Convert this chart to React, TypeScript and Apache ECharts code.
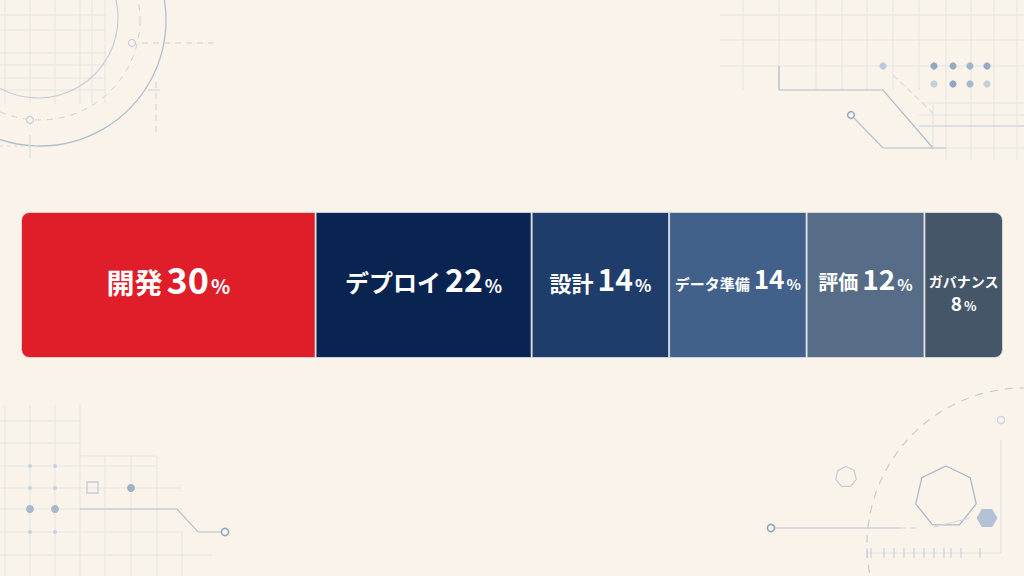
import React, { useEffect, useRef } from "react";
import * as echarts from "echarts";

const categories = ["開発", "デプロイ", "設計", "データ準備", "評価", "ガバナンス"];
const values = [30, 22, 14, 14, 12, 8];
const colors = ["#E01E2A", "#0A2452", "#1F3D6B", "#41608A", "#576C87", "#465669"];
const nameSizes = [28, 24, 22, 15, 20, 14];
const numSizes = [36, 32, 30, 26, 28, 19];
const pctSizes = [20, 18, 17, 15, 16, 13];

const LINE = "#b4c2d2";
const GRID = "#e3e5e5";

function ln(x1: number, y1: number, x2: number, y2: number, stroke = GRID, lw = 1, dash?: number[]) {
  return { type: "line", silent: true, shape: { x1, y1, x2, y2 }, style: { stroke, lineWidth: lw, lineDash: dash } };
}
function circ(cx: number, cy: number, r: number, stroke = LINE, lw = 1.2, fill = "none", dash?: number[]) {
  return { type: "circle", silent: true, shape: { cx, cy, r }, style: { stroke, lineWidth: lw, fill, lineDash: dash } };
}
function dot(cx: number, cy: number, r: number, fill: string) {
  return { type: "circle", silent: true, shape: { cx, cy, r }, style: { fill } };
}
function poly(cx: number, cy: number, r: number, n: number, rot: number, style: any) {
  const pts: number[][] = [];
  for (let k = 0; k < n; k++) {
    const a = rot + (k * 2 * Math.PI) / n;
    pts.push([cx + r * Math.cos(a), cy + r * Math.sin(a)]);
  }
  return { type: "polygon", silent: true, shape: { points: pts }, style };
}
function pl(points: number[][], stroke = LINE, lw = 1.2, dash?: number[]) {
  return { type: "polyline", silent: true, shape: { points }, style: { stroke, lineWidth: lw, fill: "none", lineDash: dash } };
}

function decorations() {
  const g: any[] = [];
  // top-left grid
  [5, 30, 55, 80, 92, 105].forEach((x) => g.push(ln(x, 0, x, 104)));
  [15, 30, 53, 65, 78, 90].forEach((y) => g.push(ln(0, y, 106, y)));
  g.push(circ(38, 18, 80, "#c3cdd8", 1.2));
  g.push(circ(40, 20, 126, "#b0bfcf", 1.3));
  g.push(circ(40, 20, 100, "#c9d2dc", 1, "none", [6, 6]));
  g.push(circ(132, 43, 3.5, "#c3cdd8", 1.2, "#f9f3e9"));
  g.push(circ(30, 120, 3.5, "#c3cdd8", 1.2, "#f9f3e9"));
  g.push(ln(142, 43, 214, 43, "#c9d2dc", 1, [6, 5]));
  g.push(ln(148, 90, 160, 90, "#c9d2dc", 1));
  g.push(ln(156, 82, 156, 135, "#c9d2dc", 1, [6, 5]));
  g.push(ln(30, 135, 30, 158, "#d0d7df", 1));
  g.push(ln(0, 146, 40, 146, "#d7dce2", 1, [3, 4]));

  // top-right grid
  [743, 779, 816, 842, 867, 893, 919, 946, 971, 994, 1017].forEach((x) => g.push(ln(x, 0, x, 90)));
  [15, 40, 66].forEach((y) => g.push(ln(720, y, 1024, y)));
  [946, 971, 994, 1017].forEach((x) => g.push(ln(x, 90, x, 160)));
  [103, 115, 126, 148].forEach((y) => g.push(ln(919, y, 1024, y)));
  g.push(dot(883, 66, 3.6, "#bac8d8"));
  [[934, "#91a6c1"], [953, "#98abc4"], [970, "#a2b4ca"], [987, "#96aac3"]].forEach(([x, c]) =>
    g.push(dot(x as number, 66, 3.6, c as string))
  );
  [[934, "#c3cfdd"], [953, "#91a6c1"], [970, "#a8b9cd"], [987, "#c3cfdd"]].forEach(([x, c]) =>
    g.push(dot(x as number, 84, 3.6, c as string))
  );
  g.push(pl([[779, 66], [779, 90], [883, 90], [933, 148]], "#aebdcd", 1.2));
  g.push(pl([[854, 118], [883, 148], [946, 148]], "#b4c2d2", 1.2));
  g.push(circ(851, 115, 3.4, "#92a7c1", 1.5, "#f9f3e9"));
  g.push(ln(893, 75, 933, 113, "#d3dbe3", 1.2, [6, 4]));
  g.push(ln(919, 126, 1024, 126, "#c9d2dc", 1.2));
  g.push(ln(933, 103, 933, 148, "#dde2e7", 1));

  // bottom-left grid
  [5, 30, 55, 80].forEach((x) => g.push(ln(x, 405, x, 576)));
  [105, 131, 157].forEach((x) => g.push(ln(x, 456, x, 576)));
  g.push(ln(182, 532, 182, 576));
  [421, 443, 466].forEach((y) => g.push(ln(0, y, y === 466 ? 157 : 80, y)));
  g.push(ln(80, 456, 157, 456));
  [488, 509, 532].forEach((y) => g.push(ln(0, y, 182, y)));
  g.push(ln(0, 555, 212, 555));
  [466, 488, 532].forEach((y) => {
    g.push(dot(30, y, 2, "#c7d1dc"));
    g.push(dot(55, y, 2, "#c7d1dc"));
  });
  g.push(dot(30, 509, 4, "#a9b9cc"));
  g.push(dot(55, 509, 4, "#a9b9cc"));
  g.push(dot(131, 488, 4, "#9fb1c7"));
  g.push({ type: "rect", silent: true, shape: { x: 87, y: 482, width: 11, height: 11 }, style: { fill: "none", stroke: "#c3cdd8", lineWidth: 1.3 } });
  g.push(pl([[80, 509], [177, 509], [198, 532], [221, 532]], "#b4c2d2", 1.2));
  g.push(circ(225, 532, 3.6, "#8fa4bf", 1.6, "#f9f3e9"));

  // bottom-right
  g.push(circ(1024, 545, 157, "#c3cdd8", 1.2, "none", [8, 7]));
  g.push(ln(775, 528, 900, 528, "#b4c2d2", 1.2));
  g.push(ln(900, 528, 920, 528, "#c9d2dc", 1.2, [6, 4]));
  g.push(circ(771, 528, 3.6, "#8fa4bf", 1.6, "#f9f3e9"));
  g.push(poly(846, 477, 10.5, 7, -Math.PI / 2, { fill: "none", stroke: "#c3cdd8", lineWidth: 1.2 }));
  g.push(poly(946, 497, 31, 7, -Math.PI / 2, { fill: "none", stroke: "#aab9cb", lineWidth: 1.3 }));
  g.push(ln(934, 527, 970, 518, "#d0d8e1", 1));
  g.push(poly(987, 518, 10.5, 6, 0, { fill: "#b3c2d4" }));
  g.push(circ(1001, 420, 3.6, "#ccd4dd", 1.2, "#f9f3e9"));
  g.push(ln(1001, 440, 1001, 553, "#dde2e7", 1.2));
  g.push(ln(868, 553, 1001, 553, "#e0e4e8", 1.2));
  [867, 871, 884, 894, 904, 914, 924, 934, 944, 951, 961, 980].forEach((x) =>
    g.push(ln(x, 548, x, 558, "#c9d2dc", 1.2))
  );
  return g;
}

export default function App() {
  const ref = useRef<HTMLDivElement>(null);
  useEffect(() => {
    if (!ref.current) return;
    const chart = echarts.init(ref.current, undefined, { renderer: "svg" });
    const last = categories.length - 1;
    const font = "'Noto Sans CJK JP', 'Noto Sans', sans-serif";
    const series = categories.map((name, i) => {
      const isLast = i === last;
      return {
        type: "bar",
        name,
        stack: "total",
        barWidth: 146,
        data: [values[i]],
        itemStyle: {
          color: colors[i],
          borderColor: "rgba(225,230,236,0.75)",
          borderWidth: 1,
          borderRadius: i === 0 ? [8, 0, 0, 8] : isLast ? [0, 8, 8, 0] : 0,
        },
        label: {
          show: true,
          position: "inside",
          overflow: "none",
          offset: isLast ? [0, 3] : [0, -6],
          formatter: (p: any) =>
            isLast
              ? `{n|${p.seriesName}}\n{v|${p.value}}{p|%}`
              : `{n|${p.seriesName}}{v|${p.value}}{p|%}`,
          rich: {
            n: {
              fontFamily: font,
              fontWeight: "bold",
              fontSize: nameSizes[i],
              color: "#ffffff",
              lineHeight: isLast ? 24 : nameSizes[i],
              verticalAlign: "bottom",
            },
            v: {
              fontFamily: font,
              fontWeight: "bold",
              fontSize: numSizes[i],
              color: "#ffffff",
              lineHeight: isLast ? 24 : numSizes[i] * 0.92,
              verticalAlign: "bottom",
              padding: isLast ? 0 : [0, 0, 0, 4],
            },
            p: {
              fontFamily: font,
              fontWeight: "bold",
              fontSize: pctSizes[i],
              color: "#ffffff",
              lineHeight: isLast ? 22 : pctSizes[i],
              verticalAlign: "bottom",
              padding: [0, 0, 0, 2],
            },
          },
        },
      };
    });
    chart.setOption({
      animation: false,
      backgroundColor: "#F9F3E9",
      grid: { left: 21, right: 21, top: 212, height: 146 },
      xAxis: { type: "value", min: 0, max: 100, show: false },
      yAxis: { type: "category", data: ["全体"], show: false },
      graphic: { elements: decorations() },
      series,
    });
    return () => chart.dispose();
  }, []);
  return (
    <div
      ref={ref}
      style={{ position: "fixed", left: 0, top: 0, width: 1024, height: 576 }}
    />
  );
}
